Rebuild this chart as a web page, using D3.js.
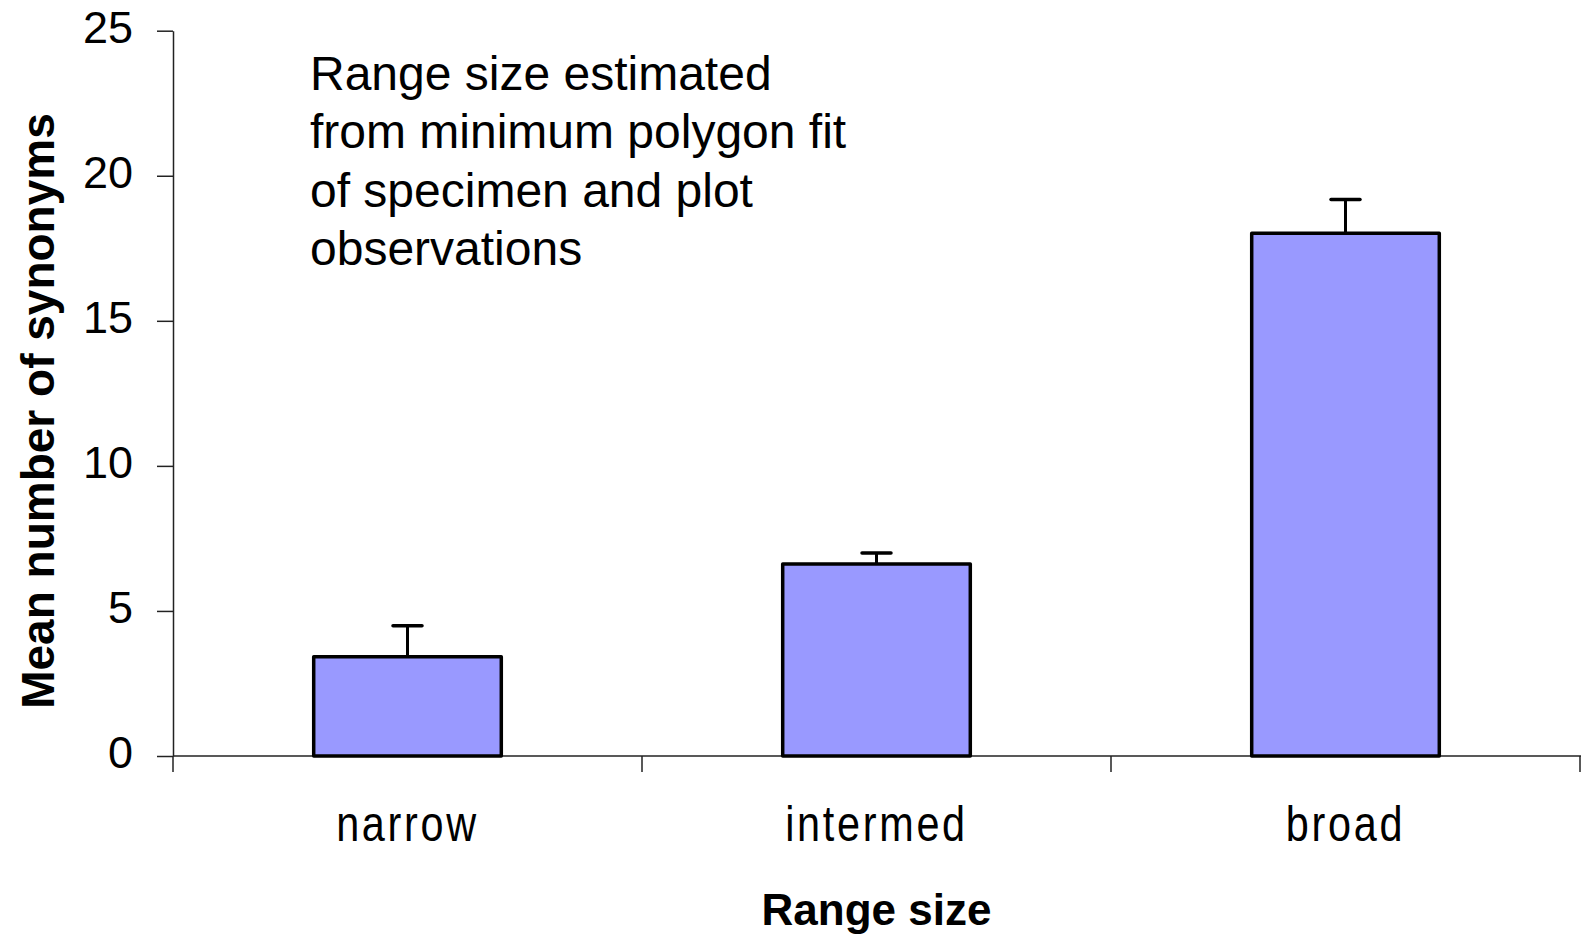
<!DOCTYPE html>
<html>
<head>
<meta charset="utf-8">
<script src="https://cdn.jsdelivr.net/npm/d3@7"></script>
<style>
  html, body { margin: 0; padding: 0; background: #fff; }
  svg { display: block; }
  text { font-family: "Liberation Sans", Arial, sans-serif; fill: #000; }
</style>
</head>
<body>
<svg id="chart" width="1581" height="937"></svg>
<script>
const categories = ["narrow", "intermed", "broad"];
const means = [3.42, 6.62, 18.02];
const upperErrors = [4.49, 7.0, 19.18];
const yTicks = [0, 5, 10, 15, 20, 25];
const annotationLines = [
  "Range size estimated",
  "from minimum polygon fit",
  "of specimen and plot",
  "observations"
];
const xTitle = "Range size";
const yTitle = "Mean number of synonyms";

const svg = d3.select("#chart");
const W = 1581, H = 937;
const plot = { left: 173, right: 1580, top: 30.7, bottom: 756 };

const x = d3.scaleBand().domain(categories).range([plot.left, plot.right]).padding(0);
const y = d3.scaleLinear().domain([0, 25]).range([plot.bottom, plot.top]);

// Y axis
const yAxis = d3.axisLeft(y).tickValues(yTicks).tickSize(16).tickPadding(24).tickSizeOuter(0);
const gy = svg.append("g").attr("transform", `translate(${plot.left},0)`).call(yAxis);
gy.select(".domain").attr("stroke", "#222").attr("stroke-width", 1.5);
gy.selectAll(".tick line").attr("stroke", "#222").attr("stroke-width", 1.5);
gy.selectAll(".tick text")
  .attr("font-size", 45)
  .attr("dy", "0.26em")
  .style("font-family", '"Liberation Sans", Arial, sans-serif')
  .attr("fill", "#000");

// X axis line with ticks at band boundaries
const gx = svg.append("g").attr("transform", `translate(0,${plot.bottom})`);
gx.append("line")
  .attr("x1", plot.left).attr("x2", W)
  .attr("y1", 0).attr("y2", 0)
  .attr("stroke", "#222").attr("stroke-width", 1.5);
const boundaries = categories.map(c => x(c)).concat([x(categories[categories.length - 1]) + x.bandwidth()]);
gx.selectAll("line.tk").data(boundaries).join("line")
  .attr("class", "tk")
  .attr("x1", d => d).attr("x2", d => d)
  .attr("y1", 0).attr("y2", 16)
  .attr("stroke", "#222").attr("stroke-width", 1.5);

// Category labels
svg.selectAll("text.cat").data(categories).join("text")
  .attr("class", "cat")
  .attr("text-anchor", "middle")
  .attr("font-size", 46)
  .attr("letter-spacing", 3)
  .attr("transform", d => `translate(${x(d) + x.bandwidth() / 2},841) scale(0.9,1.1)`)
  .text(d => d);

// Bars
const barW = x.bandwidth() * 0.4;
svg.selectAll("rect.bar").data(categories).join("rect")
  .attr("class", "bar")
  .attr("x", d => x(d) + x.bandwidth() / 2 - barW / 2)
  .attr("width", barW)
  .attr("y", (d, i) => y(means[i]))
  .attr("height", (d, i) => y(0) - y(means[i]))
  .attr("fill", "#9999FF")
  .attr("stroke", "#000")
  .attr("stroke-width", 3.5)
  .attr("stroke-linejoin", "round");

// Error bars (upper only)
const capW = 29;
const eg = svg.append("g");
categories.forEach((c, i) => {
  const cx = x(c) + x.bandwidth() / 2;
  eg.append("line")
    .attr("x1", cx).attr("x2", cx)
    .attr("y1", y(means[i])).attr("y2", y(upperErrors[i]))
    .attr("stroke", "#000").attr("stroke-width", 3);
  eg.append("line")
    .attr("x1", cx - capW / 2).attr("x2", cx + capW / 2)
    .attr("y1", y(upperErrors[i])).attr("y2", y(upperErrors[i]))
    .attr("stroke", "#000").attr("stroke-width", 3.5).attr("stroke-linecap", "round");
});

// Annotation
const ann = svg.append("text").attr("font-size", 48);
annotationLines.forEach((l, i) => {
  ann.append("tspan").attr("x", 310).attr("y", 90 + i * 58.3).text(l);
});

// Axis titles
svg.append("text")
  .attr("x", (plot.left + plot.right) / 2)
  .attr("y", 925)
  .attr("text-anchor", "middle")
  .attr("font-size", 44)
  .attr("font-weight", "bold")
  .text(xTitle);

svg.append("text")
  .attr("transform", "translate(54,411) rotate(-90)")
  .attr("text-anchor", "middle")
  .attr("font-size", 46)
  .attr("font-weight", "bold")
  .text(yTitle);
</script>
</body>
</html>
